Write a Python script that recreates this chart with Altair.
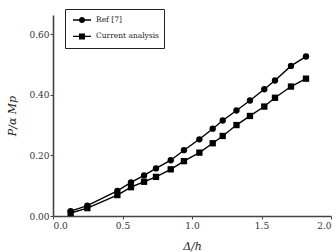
import altair as alt
import pandas as pd

x_vals = [0.127, 0.247, 0.463, 0.561, 0.655, 0.741, 0.847, 0.942, 1.053, 1.149,
          1.221, 1.320, 1.417, 1.520, 1.597, 1.712, 1.820]
ref_vals = [0.016, 0.034, 0.083, 0.111, 0.134, 0.157, 0.184, 0.217, 0.253, 0.288,
            0.315, 0.348, 0.381, 0.418, 0.447, 0.495, 0.526]
cur_vals = [0.010, 0.026, 0.069, 0.095, 0.113, 0.129, 0.154, 0.181, 0.209, 0.240,
            0.264, 0.300, 0.330, 0.361, 0.390, 0.427, 0.453]
series_names = ["Ref [7]", "Current analysis"]
y_ticks = [0.0, 0.1, 0.2, 0.3, 0.4, 0.5, 0.6]
x_ticks = [0.0, 0.5, 1.0, 1.5, 2.0]

rows = []
for xv, r, c in zip(x_vals, ref_vals, cur_vals):
    rows.append({"x": xv, "y": r, "s": series_names[0]})
    rows.append({"x": xv, "y": c, "s": series_names[1]})
df = pd.DataFrame(rows)

FONT = "DejaVu Serif"

xenc = alt.X("x:Q", scale=alt.Scale(domain=[0, 2.0], nice=False),
             axis=alt.Axis(values=x_ticks, format=".1f", title="Δ/h",
                           titleFontStyle="italic", titleFontWeight="normal",
                           titleFontSize=11, titleFont=FONT, titlePadding=10,
                           titleColor="#222"))
yenc = alt.Y("y:Q", scale=alt.Scale(domain=[0, 0.663], nice=False),
             axis=alt.Axis(values=y_ticks, format=".2f", title="P/α Mp",
                           titleFontStyle="italic", titleFontWeight="normal",
                           titleFontSize=11, titleFont=FONT, titlePadding=11,
                           titleColor="#222"))

base = alt.Chart(df)

lines = base.mark_line(color="black", strokeWidth=1.4).encode(
    x=xenc, y=yenc, detail="s:N")

circles = base.transform_filter(alt.datum.s == series_names[0]).mark_circle(
    color="black", size=40, opacity=1).encode(x="x:Q", y="y:Q")
squares = base.transform_filter(alt.datum.s == series_names[1]).mark_square(
    color="black", size=40, opacity=1).encode(x="x:Q", y="y:Q")

# legend symbols: filled bar segments either side of the marker
bars = "M-1.8,-0.14H-0.55V0.14H-1.8ZM0.55,-0.14H1.8V0.14H0.55Z"
circ_path = bars + "M-0.62,0A0.62,0.62,0,1,1,0.62,0A0.62,0.62,0,1,1,-0.62,0Z"
sq_path = bars + "M-0.6,-0.6H0.6V0.6H-0.6Z"

legend_layer = base.transform_filter("false").mark_point(
    filled=True, color="black", opacity=1).encode(
    x="x:Q", y="y:Q",
    shape=alt.Shape("s:N", scale=alt.Scale(domain=series_names, range=[circ_path, sq_path]),
                    sort=series_names,
                    legend=alt.Legend(title=None, orient="none", legendX=12, legendY=-6,
                                      strokeColor="#222", fillColor="white", padding=5,
                                      symbolSize=100, symbolOffset=6, labelOffset=8,
                                      rowPadding=3.4, labelFont=FONT, labelFontSize=7.5,
                                      labelColor="#222", symbolFillColor="black")))

chart = alt.layer(lines, circles, squares, legend_layer).properties(
    width=278, height=201,
    autosize=alt.AutoSizeParams(type="none"),
    padding={"left": 53, "top": 15, "right": 5, "bottom": 36},
).configure_view(stroke=None).configure_axis(
    grid=False, domainColor="#444", domainWidth=1.6, tickColor="#444", tickSize=3,
    labelFont=FONT, labelFontSize=9, labelColor="#333", labelPadding=2,
).configure_axisY(labelPadding=1).configure_legend(
    strokeColor="#222", strokeWidth=1)

chart.save("out.html", embed_options={"renderer": "svg", "actions": False})
